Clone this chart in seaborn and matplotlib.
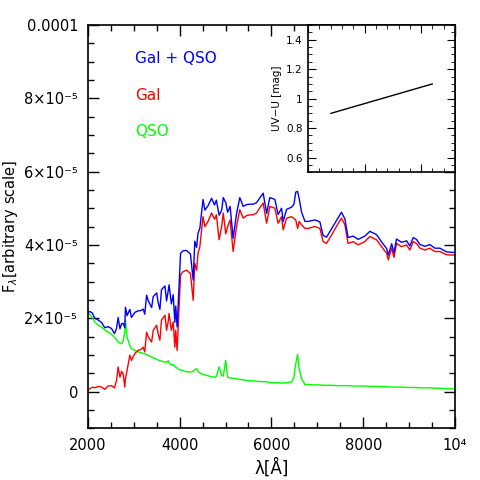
import numpy as np
import pandas as pd
import matplotlib
matplotlib.use("Agg")
import matplotlib.pyplot as plt
import seaborn as sns
from matplotlib.ticker import MultipleLocator, FixedLocator, FixedFormatter

# wavelength grid [Angstrom]
wave = [2000, 2050, 2100, 2150, 2225, 2300, 2370, 2440, 2515, 2580,
        2625, 2660, 2700, 2735, 2770, 2805, 2820, 2855, 2915, 2950,
        3025, 3095, 3160, 3205, 3240, 3280, 3315, 3390, 3425, 3500,
        3530, 3570, 3605, 3680, 3715, 3750, 3770, 3820, 3860, 3895,
        3915, 3945, 3985, 4020, 4075, 4150, 4235, 4295, 4330, 4370,
        4400, 4440, 4510, 4550, 4620, 4695, 4760, 4800, 4860, 4915,
        4950, 5005, 5045, 5100, 5165, 5240, 5310, 5385, 5460, 5530,
        5600, 5675, 5740, 5820, 5895, 5965, 6075, 6145, 6220, 6255,
        6330, 6440, 6490, 6530, 6570, 6605, 6655, 6730, 6800, 6945,
        7055, 7125, 7200, 7310, 7415, 7525, 7600, 7670, 7780, 7890,
        8035, 8145, 8290, 8400, 8510, 8545, 8620, 8670, 8725, 8835,
        8945, 9015, 9090, 9160, 9235, 9345, 9450, 9560, 9670, 9815,
        10000]

# galaxy flux, units of 1e-5
gal = [0.03, 0.08, 0.12, 0.10, 0.14, 0.12, 0.06, 0.15, 0.16, 0.10,
       0.30, 0.67, 0.39, 0.55, 0.48, 0.12, 0.35, 0.58, 0.99, 0.85,
       1.04, 1.12, 1.15, 1.21, 1.08, 1.62, 1.49, 1.35, 1.67, 1.81,
       1.58, 1.40, 1.95, 2.08, 1.67, 1.90, 2.13, 1.67, 1.90, 1.21,
       1.67, 1.12, 2.22, 3.18, 3.27, 3.31, 3.22, 2.49, 3.50, 3.31,
       3.77, 3.95, 4.77, 4.50, 4.64, 4.87, 4.70, 4.82, 4.14, 4.50,
       4.87, 4.30, 4.50, 4.68, 3.82, 4.50, 4.96, 4.73, 4.80, 4.82,
       4.82, 4.87, 5.00, 5.14, 4.59, 5.05, 5.00, 4.59, 4.77, 4.41,
       4.73, 4.77, 4.72, 4.68, 4.45, 4.64, 4.55, 4.45, 4.45, 4.50,
       4.45, 4.09, 4.04, 4.27, 4.50, 4.73, 4.55, 4.04, 4.09, 4.00,
       4.09, 4.23, 4.14, 3.95, 3.77, 3.59, 3.91, 3.66, 4.04, 3.95,
       4.00, 3.86, 4.09, 4.04, 3.91, 3.86, 3.91, 3.82, 3.82, 3.73,
       3.72]

# QSO flux, units of 1e-5
qso = [2.13, 2.10, 2.02, 1.90, 1.81, 1.76, 1.68, 1.62, 1.56, 1.48,
       1.42, 1.35, 1.32, 1.30, 1.38, 1.62, 1.95, 1.49, 1.25, 1.17,
       1.12, 1.08, 1.06, 1.04, 1.03, 1.01, 0.99, 0.94, 0.92, 0.88,
       0.86, 0.84, 0.83, 0.80, 0.80, 0.84, 0.78, 0.72, 0.74, 0.68,
       0.66, 0.64, 0.60, 0.59, 0.57, 0.54, 0.53, 0.55, 0.60, 0.62,
       0.55, 0.50, 0.47, 0.45, 0.43, 0.40, 0.39, 0.40, 0.67, 0.44,
       0.42, 0.85, 0.39, 0.37, 0.36, 0.35, 0.33, 0.32, 0.30, 0.29,
       0.29, 0.28, 0.27, 0.27, 0.27, 0.24, 0.24, 0.24, 0.23, 0.23,
       0.24, 0.26, 0.39, 0.76, 1.01, 0.62, 0.35, 0.19, 0.19, 0.18,
       0.18, 0.17, 0.17, 0.17, 0.16, 0.16, 0.16, 0.16, 0.15, 0.15,
       0.15, 0.14, 0.14, 0.13, 0.13, 0.13, 0.12, 0.12, 0.12, 0.12,
       0.11, 0.11, 0.11, 0.11, 0.10, 0.10, 0.10, 0.09, 0.09, 0.08,
       0.07]

# inset: colour vs redshift
inset_z = [0.2, 1.1]
inset_uvu = [0.9, 1.1]

ytick_vals = [0, 2e-5, 4e-5, 6e-5, 8e-5, 1e-4]
ytick_labels = ["0", "2×10⁻⁵", "4×10⁻⁵", "6×10⁻⁵", "8×10⁻⁵", "0.0001"]
xtick_vals = [2000, 4000, 6000, 8000, 10000]
xtick_labels = ["2000", "4000", "6000", "8000", "10⁴"]

scale = 1e-5
df = pd.DataFrame({"wave": wave,
                   "Gal": np.array(gal) * scale,
                   "QSO": np.array(qso) * scale})
df["Gal + QSO"] = df["Gal"] + df["QSO"]
long = df.melt(id_vars="wave", var_name="comp", value_name="flux")

sns.set_style("ticks")
plt.rcParams["font.family"] = ["DejaVu Sans"]
plt.rcParams["axes.linewidth"] = 1.2
for key in ["text.color", "axes.labelcolor", "xtick.color", "ytick.color",
            "axes.edgecolor"]:
    plt.rcParams[key] = "black"

colors = {"Gal + QSO": "#0000ff", "Gal": "#ff0000", "QSO": "#00ff00"}

fig = plt.figure(figsize=(4.8, 4.8), dpi=100)
ax = fig.add_axes([0.183, 0.108, 0.765, 0.84])
sns.lineplot(data=long, x="wave", y="flux", hue="comp", palette=colors,
             hue_order=["QSO", "Gal", "Gal + QSO"], estimator=None,
             sort=False, linewidth=1.0, legend=False, ax=ax)

ax.set_xlim(2000, 10000)
ax.set_ylim(-1e-5, 1e-4)
ax.xaxis.set_major_locator(FixedLocator(xtick_vals))
ax.xaxis.set_major_formatter(FixedFormatter(xtick_labels))
ax.xaxis.set_minor_locator(MultipleLocator(500))
ax.yaxis.set_major_locator(FixedLocator(ytick_vals))
ax.yaxis.set_major_formatter(FixedFormatter(ytick_labels))
ax.yaxis.set_minor_locator(MultipleLocator(5e-6))
ax.tick_params(which="both", direction="in", top=True, right=True,
               labelsize=10.5, width=1.0)
ax.tick_params(which="major", length=8, pad=7)
ax.tick_params(which="minor", length=4)
ax.set_xlabel("λ[Å]", fontsize=12, labelpad=4)
ax.set_ylabel(r"F$_\lambda$[arbitrary scale]", fontsize=10.5)
ax.yaxis.set_label_coords(-0.185, 0.5)

for lab, ypos in [("Gal + QSO", 0.918), ("Gal", 0.826), ("QSO", 0.737)]:
    ax.text(0.128, ypos, lab, color=colors[lab], fontsize=11,
            transform=ax.transAxes, va="center", ha="left")

# inset panel
ins = fig.add_axes([0.642, 0.641, 0.306, 0.307])
sns.lineplot(x=inset_z, y=inset_uvu, color="black", linewidth=1.0, ax=ins)
ins.set_xlim(0, 1.3)
ins.set_ylim(0.5, 1.5)
ins.xaxis.set_major_locator(MultipleLocator(0.5))
ins.xaxis.set_minor_locator(MultipleLocator(0.1))
ins.yaxis.set_major_locator(FixedLocator([0.6, 0.8, 1.0, 1.2, 1.4]))
ins.yaxis.set_major_formatter(FixedFormatter(["0.6", "0.8", "1", "1.2", "1.4"]))
ins.yaxis.set_minor_locator(MultipleLocator(0.05))
ins.tick_params(which="both", direction="in", top=True, right=True,
                labelsize=7.5, labelbottom=False)
ins.tick_params(which="major", length=6, pad=4)
ins.tick_params(which="minor", length=3)
ins.set_ylabel("UV−U [mag]", fontsize=7.5, labelpad=3)
for s in ins.spines.values():
    s.set_linewidth(1.2)

fig.savefig("out.png", dpi=100)
